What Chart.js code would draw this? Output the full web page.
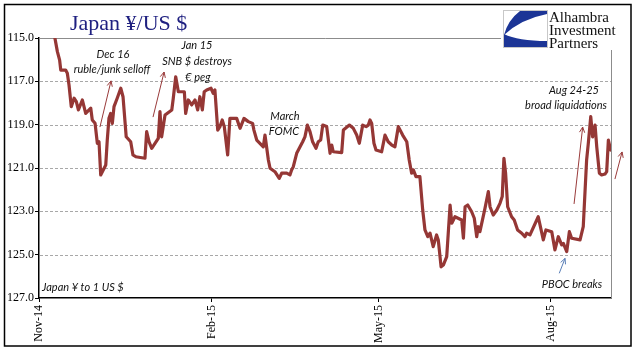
<!DOCTYPE html>
<html lang="en">
<head>
  <meta charset="utf-8">
  <title>Japan ¥/US $</title>
  <script src="https://cdn.jsdelivr.net/npm/chart.js@4.4.0/dist/chart.umd.min.js"></script>
  <style>
    html, body { margin: 0; padding: 0; background: #fff; }
    canvas { display: block; }
  </style>
</head>
<body>
  <canvas id="chart" width="641" height="361"></canvas>
  <script>
    // x = days since 1 Nov 2014, y = yen per 1 US $
    const tickDays = [0, 92, 181, 273];
    const tickLabels = ['Nov-14', 'Feb-15', 'May-15', 'Aug-15'];
    const yTicks = [115, 117, 119, 121, 123, 125, 127];

    const days = [
      8.5, 9.8, 11.0, 11.6, 14.2, 15.1, 16.0, 17.2, 18.7, 19.9,
      21.0, 23.1, 24.9, 27.6, 28.4, 29.9, 31.1, 32.0, 32.9, 35.6,
      36.4, 37.3, 38.2, 39.1, 40.0, 41.7, 43.6, 44.8, 46.5, 48.9,
      50.1, 51.6, 56.5, 57.4, 58.7, 60.1, 63.6, 64.5, 65.4, 67.2,
      70.8, 71.6, 72.9, 74.3, 77.5, 78.2, 79.6, 81.4, 83.2, 84.6,
      85.8, 87.1, 88.1, 89.4, 91.7, 92.9, 93.8, 95.3, 96.5, 97.7,
      98.8, 100.6, 101.8, 105.4, 107.2, 109.3, 111.6, 113.9, 114.6, 116.1,
      118.7, 119.6, 120.5, 122.3, 123.2, 125.8, 128.1, 129.4, 132.1, 133.8,
      134.7, 135.6, 137.4, 139.2, 140.6, 141.8, 143.1, 144.5, 145.9, 147.7,
      148.9, 150.2, 151.3, 153.4, 155.2, 156.1, 156.9, 161.4, 162.3, 165.5,
      167.6, 169.4, 170.8, 172.6, 174.4, 175.6, 176.5, 177.4, 178.6, 179.7,
      182.7, 184.5, 186.2, 188.1, 189.8, 191.6, 193.9, 196.1, 197.4, 198.7,
      199.6, 201.0, 203.1, 204.6, 205.8, 207.3, 208.5, 210.2, 212.0, 212.9,
      214.4, 215.6, 217.4, 219.2, 220.1, 221.8, 225.4, 226.3, 227.2, 228.6,
      230.7, 232.1, 233.4, 234.2, 235.1, 237.8, 239.6, 240.5, 242.2, 244.1,
      245.8, 247.0, 247.9, 248.8, 249.9, 252.0, 253.4, 255.2, 257.4, 259.1,
      260.0, 261.8, 266.2, 268.9, 270.3, 273.4, 275.1, 276.9, 278.7, 279.6,
      281.4, 282.8, 284.0, 288.5, 290.2, 292.0, 292.9, 294.2, 295.2, 296.5,
      297.4, 298.8, 300.0, 301.8, 302.7, 303.6, 304.8
    ];

    const rates = [
      115.01, 115.63, 116.02, 116.48, 116.48, 116.63, 117.17, 118.17, 117.78, 117.94,
      118.32, 117.86, 118.48, 118.24, 118.78, 118.94, 119.86, 119.79, 121.32, 120.86,
      119.71, 118.71, 118.48, 118.94, 118.17, 117.78, 117.32, 117.71, 119.56, 119.79,
      120.40, 120.48, 120.55, 119.32, 119.79, 120.09, 119.63, 118.40, 119.56, 118.55,
      118.32, 117.78, 116.79, 117.48, 117.48, 118.48, 117.86, 118.09, 117.86, 118.32,
      117.71, 118.32, 117.48, 117.40, 117.32, 117.55, 117.40, 119.25, 119.09, 118.78,
      119.09, 120.40, 118.71, 118.71, 119.17, 118.71, 118.86, 118.94, 119.25, 119.71,
      119.94, 120.02, 119.48, 120.63, 121.01, 121.17, 121.48, 121.24, 121.24, 121.32,
      121.09, 120.94, 120.32, 120.02, 119.79, 119.56, 119.02, 119.32, 119.79, 120.09,
      119.79, 119.71, 119.02, 119.09, 120.32, 119.94, 120.25, 120.29, 119.25, 119.02,
      119.17, 119.48, 119.86, 119.02, 119.09, 119.02, 118.78, 118.94, 119.86, 120.17,
      120.25, 119.48, 119.79, 119.94, 120.02, 119.09, 119.48, 119.79, 120.63, 121.24,
      121.09, 121.40, 121.40, 122.94, 123.86, 124.17, 124.01, 124.63, 124.09, 124.32,
      125.56, 125.48, 125.09, 122.71, 123.55, 123.25, 123.40, 124.24, 122.79, 122.71,
      123.02, 123.32, 124.17, 123.71, 123.94, 122.86, 122.09, 122.79, 123.17, 122.94,
      122.63, 122.32, 120.55, 121.24, 122.79, 123.25, 123.40, 123.86, 124.01, 124.17,
      124.01, 124.09, 123.25, 124.32, 123.86, 123.94, 124.78, 124.17, 124.55, 124.48,
      124.86, 123.94, 124.24, 124.32, 123.71, 120.63, 119.86, 118.63, 119.56, 119.02,
      120.02, 121.24, 121.32, 121.28, 121.17, 119.71, 120.17
    ];

    // annotation arrows in data units: [fromDay, fromRate, toDay, toRate, colour]
    const arrows = [
      [32.5, 119.11, 38.4, 116.98, '#9a3b3b'],
      [60.8, 118.65, 66.7, 116.57, '#9a3b3b'],
      [285.3, 122.66, 289.9, 119.11, '#9a3b3b'],
      [307.1, 121.51, 310.9, 120.26, '#9a3b3b'],
      [277.4, 125.86, 280.5, 125.17, '#5a7fb8']
    ];

    // annotation text: [text, x, y, align]
    const notes = [
      ['Dec 16', 113, 54, 'center'],
      ['ruble/junk selloff', 112, 69, 'center'],
      ['Jan 15', 197, 45, 'center'],
      ['SNB $ destroys', 197, 61, 'center'],
      ['€ peg', 198, 77, 'center'],
      ['March', 285, 116, 'center'],
      ['FOMC', 284, 131, 'center'],
      ['Aug 24-25', 574, 90, 'center'],
      ['broad liquidations', 566, 105, 'center'],
      ['Japan ¥ to 1 US $', 42, 287, 'left'],
      ['PBOC breaks', 572, 284, 'center']
    ];

    function drawArrow(ctx, x1, y1, x2, y2, color) {
      const a = Math.atan2(y2 - y1, x2 - x1);
      const h = 6;
      ctx.save();
      ctx.strokeStyle = color;
      ctx.lineWidth = 1;
      ctx.beginPath();
      ctx.moveTo(x1, y1);
      ctx.lineTo(x2, y2);
      ctx.moveTo(x2 - h * Math.cos(a - 0.45), y2 - h * Math.sin(a - 0.45));
      ctx.lineTo(x2, y2);
      ctx.lineTo(x2 - h * Math.cos(a + 0.45), y2 - h * Math.sin(a + 0.45));
      ctx.stroke();
      ctx.restore();
    }

    function drawLogo(ctx) {
      ctx.save();
      ctx.fillStyle = '#fff';
      ctx.fillRect(501, 7, 126, 43);
      ctx.strokeStyle = '#c8c8c8';
      ctx.lineWidth = 1;
      ctx.strokeRect(503.5, 10.5, 44, 37);
      ctx.fillStyle = '#1c3596';
      ctx.beginPath();
      ctx.moveTo(520, 11);
      ctx.lineTo(547, 11);
      ctx.lineTo(547, 14);
      ctx.quadraticCurveTo(521, 19, 504, 35);
      ctx.quadraticCurveTo(508, 20, 520, 11);
      ctx.fill();
      ctx.beginPath();
      ctx.moveTo(504, 34);
      ctx.quadraticCurveTo(518, 41, 547, 41);
      ctx.lineTo(547, 47);
      ctx.lineTo(504, 47);
      ctx.closePath();
      ctx.fill();
      ctx.fillStyle = '#111';
      ctx.font = '15px "Liberation Serif", serif';
      ctx.textAlign = 'left';
      ctx.textBaseline = 'alphabetic';
      ctx.fillText('Alhambra', 549, 22);
      ctx.fillText('Investment', 549, 35);
      ctx.fillText('Partners', 549, 48);
      ctx.restore();
    }

    const decorations = {
      id: 'decorations',
      beforeDraw(chart) {
        const ctx = chart.ctx;
        ctx.save();
        ctx.fillStyle = '#fff';
        ctx.fillRect(0, 0, chart.width, chart.height);
        ctx.restore();
      },
      beforeDatasetsDraw(chart) {
        const { ctx, chartArea: a } = chart;
        const ys = chart.scales.y;
        ctx.save();
        // dashed gridlines at the inner ticks
        ctx.strokeStyle = '#a8a8a8';
        ctx.lineWidth = 1;
        ctx.setLineDash([3, 2]);
        yTicks.slice(1, -1).forEach((v) => {
          const y = Math.round(ys.getPixelForValue(v)) + 0.5;
          ctx.beginPath();
          ctx.moveTo(a.left + 1, y);
          ctx.lineTo(a.right, y);
          ctx.stroke();
        });
        // plot frame top and right
        ctx.setLineDash([]);
        ctx.strokeStyle = '#8c8c8c';
        ctx.beginPath();
        ctx.moveTo(a.left, a.top + 0.5);
        ctx.lineTo(a.right + 0.5, a.top + 0.5);
        ctx.lineTo(a.right + 0.5, a.bottom);
        ctx.stroke();
        ctx.restore();
      },
      afterDraw(chart) {
        const ctx = chart.ctx;
        const xs = chart.scales.x;
        const ys = chart.scales.y;

        arrows.forEach(([d1, r1, d2, r2, c]) => {
          drawArrow(ctx, xs.getPixelForValue(d1), ys.getPixelForValue(r1),
            xs.getPixelForValue(d2), ys.getPixelForValue(r2), c);
        });

        ctx.save();
        ctx.fillStyle = '#111';
        ctx.font = 'italic 11px Lato, sans-serif';
        ctx.textBaseline = 'middle';
        notes.forEach(([t, x, y, align]) => {
          ctx.textAlign = align;
          ctx.fillText(t, x, y);
        });

        ctx.fillStyle = '#1f2080';
        ctx.font = '22px "Liberation Serif", serif';
        ctx.textAlign = 'left';
        ctx.textBaseline = 'alphabetic';
        ctx.fillText('Japan ¥/US $', 70, 30);
        ctx.restore();

        drawLogo(ctx);

        ctx.save();
        ctx.strokeStyle = '#000';
        ctx.lineWidth = 1.5;
        ctx.strokeRect(4.5, 4.5, 626.5, 341.5);
        ctx.restore();
      }
    };

    new Chart(document.getElementById('chart'), {
      type: 'line',
      data: {
        datasets: [{
          data: days.map((d, i) => ({ x: d, y: rates[i] })),
          borderColor: '#953735',
          borderWidth: 3.2,
          pointRadius: 0,
          tension: 0,
          borderJoinStyle: 'round',
          borderCapStyle: 'round'
        }]
      },
      options: {
        responsive: false,
        animation: false,
        devicePixelRatio: 1,
        layout: { padding: { left: 0, right: 30, top: 38, bottom: 0 } },
        plugins: { legend: { display: false }, tooltip: { enabled: false } },
        scales: {
          x: {
            type: 'linear',
            min: 0,
            max: 305,
            afterBuildTicks: (s) => { s.ticks = tickDays.map((v) => ({ value: v })); },
            afterFit: (s) => { s.height = 63; },
            ticks: {
              autoSkip: false,
              minRotation: 90,
              maxRotation: 90,
              padding: 3,
              color: '#000',
              font: { family: '"Liberation Serif", serif', size: 12 },
              callback: (v) => tickLabels[tickDays.indexOf(v)] ?? ''
            },
            grid: { drawOnChartArea: false, drawTicks: true, tickLength: 4, tickColor: '#000', color: '#000' },
            border: { color: '#000', width: 1.5 }
          },
          y: {
            reverse: true,
            min: 115,
            max: 127,
            afterBuildTicks: (s) => { s.ticks = yTicks.map((v) => ({ value: v })); },
            afterFit: (s) => { s.width = 39; },
            ticks: {
              padding: 1,
              color: '#000',
              font: { family: '"Liberation Serif", serif', size: 12 },
              callback: (v) => v.toFixed(1)
            },
            grid: { drawOnChartArea: false, drawTicks: true, tickColor: '#000', tickLength: 4 },
            border: { color: '#000', width: 1.5 }
          }
        }
      },
      plugins: [decorations]
    });
  </script>
</body>
</html>
